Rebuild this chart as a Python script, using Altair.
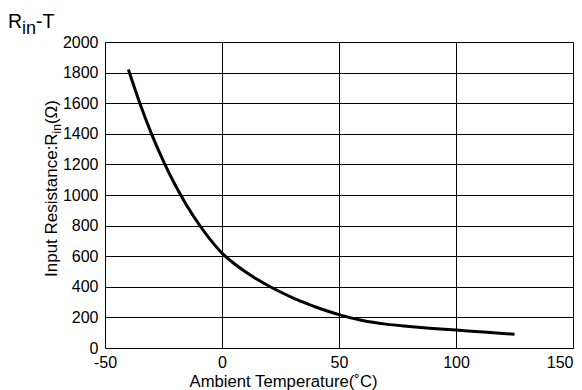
import altair as alt
import pandas as pd

# Curve data
temps = [-40, -35, -30, -25, -20, -15, -10, -5, 0, 5, 10, 15, 20, 25, 30, 35, 40,
         45, 50, 55, 60, 70, 80, 90, 100, 110, 120, 125]
resist = [1820, 1595, 1395, 1220, 1065, 930, 812, 708, 620, 554, 498, 449, 405,
          366, 330, 298, 268, 242, 218, 197, 180, 156, 141, 128, 117, 106, 95, 90]

x_ticks = [-50, 0, 50, 100, 150]
y_ticks = [0, 200, 400, 600, 800, 1000, 1200, 1400, 1600, 1800, 2000]

df = pd.DataFrame({"T": temps, "R": resist})

W, H = 468, 306
FONT = "Liberation Sans"

line = alt.Chart(df).mark_line(color="black", strokeWidth=3, interpolate="monotone").encode(
    x=alt.X("T:Q", scale=alt.Scale(domain=[-50, 150], nice=False),
            axis=alt.Axis(values=x_ticks, title="Ambient Temperature(˚C)",
                          labelExpr="'' + datum.value",
                          ticks=False, domain=False, grid=True, gridColor="black",
                          gridOpacity=1, gridWidth=1, labelFont=FONT, labelFontSize=16,
                          labelColor="black", labelPadding=6,
                          labelAlign={"condition": {"test": "datum.value == 150", "value": "right"},
                                      "value": "center"},
                          titleFont=FONT, titleFontSize=16.7, titleFontWeight="normal",
                          titleColor="black", titleX=178, titleY=38,
                          titleBaseline="alphabetic", titleAlign="center")),
    y=alt.Y("R:Q", scale=alt.Scale(domain=[0, 2000], nice=False),
            axis=alt.Axis(values=y_ticks, title=None, ticks=False, domain=False,
                          labelExpr="'' + datum.value",
                          grid=True, gridColor="black", gridOpacity=1, gridWidth=1,
                          labelFont=FONT, labelFontSize=16, labelColor="black",
                          labelPadding=7)),
)

def txt(s, x, y, size, angle=0):
    return alt.Chart(pd.DataFrame({"t": [s]})).mark_text(
        text=s, font=FONT, fontSize=size, color="black", align="left",
        baseline="alphabetic", angle=angle
    ).encode(x=alt.value(x), y=alt.value(y))

# Chart title R_in-T
title_parts = [
    txt("R", -97, -14.5, 19.5),
    txt("in", -82.9, -8.5, 18),
    txt("-T", -68.9, -14.5, 19.5),
]

# Y axis title: Input Resistance:R_in(Ω)
ylab = [
    txt("Input Resistance:R", -48, 235, 17, 270),
    txt("in", -44.5, 91.4, 12, 270),
    txt("(Ω)", -48, 82.1, 17, 270),
]

chart = alt.layer(line, *title_parts, *ylab).properties(
    width=W, height=H,
    autosize=alt.AutoSizeParams(type="none"),
    padding={"left": 97, "top": 34, "right": 1, "bottom": 46},
).configure_view(stroke="black", strokeWidth=2).configure(background="white")

chart.save("out.html", embed_options={"renderer": "svg", "actions": False})
